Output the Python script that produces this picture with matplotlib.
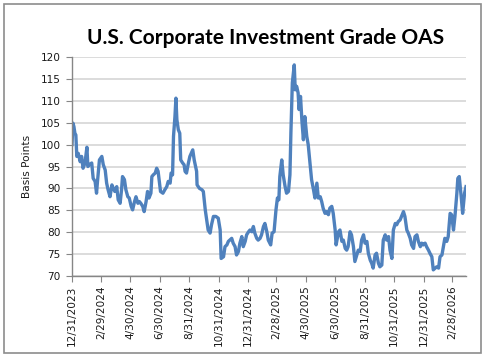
import matplotlib
matplotlib.use("Agg")
import matplotlib.pyplot as plt
import matplotlib.dates as mdates
import pandas as pd
from matplotlib.patches import Rectangle

# OAS in basis points
dates = [
    "2023-12-31", "2024-01-02", "2024-01-04", "2024-01-06", "2024-01-08", "2024-01-10",
    "2024-01-13", "2024-01-17", "2024-01-20", "2024-01-23", "2024-01-27", "2024-01-31",
    "2024-02-02", "2024-02-05", "2024-02-10", "2024-02-13", "2024-02-17", "2024-02-20",
    "2024-02-22", "2024-02-26", "2024-03-02", "2024-03-05", "2024-03-09", "2024-03-12",
    "2024-03-15", "2024-03-19", "2024-03-23", "2024-03-26", "2024-03-29", "2024-04-02",
    "2024-04-05", "2024-04-09", "2024-04-12", "2024-04-14", "2024-04-18", "2024-04-21",
    "2024-04-25", "2024-04-28", "2024-05-02", "2024-05-05", "2024-05-09", "2024-05-12",
    "2024-05-16", "2024-05-19", "2024-05-22", "2024-05-26", "2024-05-29", "2024-06-02",
    "2024-06-05", "2024-06-08", "2024-06-12", "2024-06-14", "2024-06-17", "2024-06-21",
    "2024-06-24", "2024-06-27", "2024-06-29", "2024-07-02", "2024-07-07", "2024-07-11",
    "2024-07-15", "2024-07-18", "2024-07-22", "2024-07-24", "2024-07-27", "2024-07-29",
    "2024-08-01", "2024-08-03", "2024-08-05", "2024-08-08", "2024-08-11", "2024-08-13",
    "2024-08-17", "2024-08-20", "2024-08-22", "2024-08-25", "2024-08-29", "2024-09-01",
    "2024-09-07", "2024-09-10", "2024-09-15", "2024-09-16", "2024-09-21", "2024-09-26",
    "2024-09-29", "2024-10-03", "2024-10-06", "2024-10-09", "2024-10-13", "2024-10-16",
    "2024-10-20", "2024-10-25", "2024-10-30", "2024-11-03", "2024-11-05", "2024-11-10",
    "2024-11-13", "2024-11-17", "2024-11-20", "2024-11-23", "2024-11-27", "2024-11-30",
    "2024-12-04", "2024-12-07", "2024-12-11", "2024-12-14", "2024-12-18", "2024-12-21",
    "2024-12-25", "2024-12-28", "2025-01-01", "2025-01-04", "2025-01-08", "2025-01-11",
    "2025-01-14", "2025-01-18", "2025-01-21", "2025-01-25", "2025-01-28", "2025-02-01",
    "2025-02-04", "2025-02-08", "2025-02-11", "2025-02-16", "2025-02-19", "2025-02-23",
    "2025-02-27", "2025-03-02", "2025-03-05", "2025-03-07", "2025-03-11", "2025-03-14",
    "2025-03-18", "2025-03-21", "2025-03-25", "2025-03-28", "2025-03-30", "2025-04-02",
    "2025-04-06", "2025-04-08", "2025-04-11", "2025-04-14", "2025-04-16", "2025-04-19",
    "2025-04-22", "2025-04-25", "2025-04-28", "2025-05-02", "2025-05-05", "2025-05-09",
    "2025-05-12", "2025-05-16", "2025-05-19", "2025-05-23", "2025-05-26", "2025-05-30",
    "2025-06-02", "2025-06-05", "2025-06-09", "2025-06-12", "2025-06-16", "2025-06-19",
    "2025-06-23", "2025-06-26", "2025-06-30", "2025-07-02", "2025-07-07", "2025-07-10",
    "2025-07-14", "2025-07-17", "2025-07-21", "2025-07-24", "2025-07-27", "2025-07-31",
    "2025-08-03", "2025-08-07", "2025-08-10", "2025-08-14", "2025-08-17", "2025-08-21",
    "2025-08-24", "2025-08-28", "2025-08-31", "2025-09-04", "2025-09-07", "2025-09-11",
    "2025-09-14", "2025-09-17", "2025-09-21", "2025-09-24", "2025-09-28", "2025-10-01",
    "2025-10-05", "2025-10-08", "2025-10-12", "2025-10-15", "2025-10-19", "2025-10-22",
    "2025-10-26", "2025-10-29", "2025-11-02", "2025-11-05", "2025-11-08", "2025-11-12",
    "2025-11-15", "2025-11-19", "2025-11-22", "2025-11-26", "2025-11-29", "2025-12-03",
    "2025-12-06", "2025-12-10", "2025-12-13", "2025-12-17", "2025-12-20", "2025-12-24",
    "2025-12-27", "2025-12-30", "2026-01-03", "2026-01-06", "2026-01-10", "2026-01-13",
    "2026-01-17", "2026-01-20", "2026-01-24", "2026-01-27", "2026-01-31", "2026-02-03",
    "2026-02-07", "2026-02-10", "2026-02-13", "2026-02-17", "2026-02-20", "2026-02-24",
    "2026-02-27", "2026-03-03", "2026-03-06", "2026-03-10", "2026-03-12", "2026-03-15",
    "2026-03-19", "2026-03-22", "2026-03-26", "2026-03-29",
]
oas = [
    100.0, 104.9, 104.1, 102.6, 102.2, 97.3,
    98.0, 96.1, 97.3, 94.6, 95.8, 99.4,
    95.0, 95.4, 95.8, 92.3, 91.6, 88.9,
    91.6, 96.5, 97.3, 95.4, 94.2, 91.2,
    89.7, 88.1, 90.8, 90.0, 89.3, 90.4,
    87.4, 86.6, 89.7, 92.7, 92.0, 89.7,
    88.1, 87.8, 85.9, 85.1, 87.0, 88.1,
    86.6, 87.0, 86.6, 85.9, 84.7, 87.0,
    89.3, 87.8, 88.9, 92.7, 93.1, 93.5,
    94.6, 93.9, 92.0, 89.3, 88.9, 89.7,
    90.4, 91.6, 91.2, 93.5, 93.1, 101.9,
    106.4, 110.6, 105.7, 103.4, 102.6, 96.5,
    95.8, 95.4, 93.9, 93.5, 95.8, 97.3,
    98.8, 96.5, 93.9, 90.8, 90.0, 89.7,
    89.3, 85.1, 82.8, 80.5, 79.8, 81.7,
    83.6, 83.6, 83.2, 80.5, 74.0, 74.4,
    76.7, 77.1, 77.9, 78.2, 78.6, 77.5,
    76.7, 74.8, 75.6, 77.5, 79.0, 76.7,
    77.9, 79.4, 80.1, 80.5, 80.1, 81.3,
    79.8, 78.6, 78.2, 78.6, 79.4, 81.3,
    82.0, 80.1, 78.2, 77.1, 79.8, 80.1,
    85.1, 87.8, 87.4, 92.7, 96.5, 93.1,
    90.4, 88.9, 89.3, 93.1, 102.6, 114.1,
    118.2, 112.5, 113.3, 111.8, 108.0, 111.0,
    105.3, 101.1, 106.4, 101.9, 100.0, 95.4,
    92.0, 89.7, 87.8, 91.2, 87.8, 88.1,
    87.0, 85.5, 84.3, 84.7, 84.0, 85.5,
    85.9, 84.3, 80.5, 77.1, 80.1, 80.5,
    77.9, 78.2, 76.3, 75.9, 76.7, 80.1,
    79.4, 76.7, 73.3, 74.8, 75.9, 75.6,
    78.2, 79.4, 77.5, 77.9, 75.2, 73.6,
    72.9, 71.8, 74.8, 75.2, 72.9, 72.1,
    72.5, 78.2, 79.4, 78.2, 79.0, 75.9,
    74.0, 80.5, 82.0, 81.7, 82.4, 82.8,
    83.6, 84.7, 83.6, 80.5, 79.8, 78.6,
    77.1, 76.3, 79.0, 79.4, 77.9, 76.7,
    77.5, 77.1, 77.5, 76.7, 75.9, 75.2,
    74.4, 71.4, 71.8, 72.1, 71.8, 74.4,
    74.8, 76.7, 78.6, 77.9, 79.0, 84.3,
    84.0, 80.5, 83.6, 88.9, 92.3, 92.7,
    88.1, 84.3, 88.9, 90.4,
]
tick_dates = [
    "2023-12-31", "2024-02-29", "2024-04-30", "2024-06-30", "2024-08-31",
    "2024-10-31", "2024-12-31", "2025-02-28", "2025-04-30", "2025-06-30",
    "2025-08-31", "2025-10-31", "2025-12-31", "2026-02-28",
]

x = pd.to_datetime(dates)
ticks = pd.to_datetime(tick_dates)

fig = plt.figure(figsize=(4.89, 3.6), dpi=100)
fig.patch.set_facecolor("white")
# outer chart border
fig.patches.append(Rectangle((4 / 489, 1 - 353 / 360), 477 / 489, 349 / 360,
                             transform=fig.transFigure, fill=False,
                             edgecolor="#8c8c8c", linewidth=1.2))

ax = fig.add_axes([72 / 489, 1 - 276 / 360, 394 / 489, 219 / 360])
ax.plot(x, oas, color="#4f81bd", linewidth=2.4, solid_joinstyle="round")

ax.set_ylim(70, 120)
ax.set_yticks(range(70, 121, 5))
ax.set_xlim(x[0], x[-1])
ax.set_xticks(ticks)
ax.xaxis.set_major_formatter(
    matplotlib.ticker.FuncFormatter(
        lambda v, p: "{d.month}/{d.day}/{d.year}".format(d=mdates.num2date(v))))

ax.grid(axis="y", color="#d9d9d9", linewidth=1.3)
ax.set_axisbelow(True)
for s in ["top", "right"]:
    ax.spines[s].set_visible(False)
for s in ["left", "bottom"]:
    ax.spines[s].set_color("#868686")
    ax.spines[s].set_linewidth(1.0)

ax.tick_params(axis="both", direction="out", length=4, color="#868686",
               labelsize=7.6, labelcolor="#1a1a1a")
ax.tick_params(axis="x", labelrotation=90, pad=3)
ax.tick_params(axis="y", pad=4)
ax.set_ylabel("Basis Points", fontsize=7.6, color="#1a1a1a", labelpad=6)

fig.text(0.543, 0.895, "U.S. Corporate Investment Grade OAS", ha="center",
         va="center", fontsize=15, fontweight="bold", family="Lato")

fig.savefig("out.png", dpi=100)
